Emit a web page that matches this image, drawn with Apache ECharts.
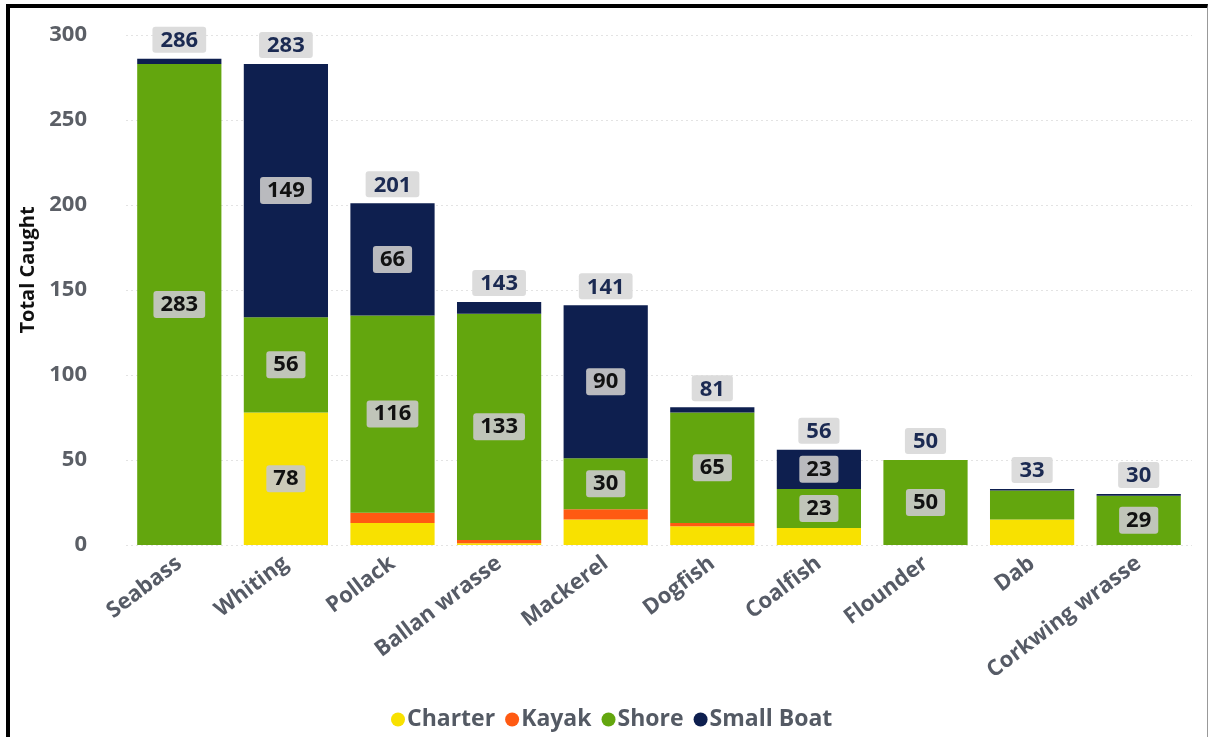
<!DOCTYPE html>
<html>
<head>
<meta charset="utf-8">
<script src="https://cdn.jsdelivr.net/npm/echarts@6/dist/echarts.min.js"></script>
<style>
  html, body { margin: 0; padding: 0; background: #fff; }
  #frame {
    position: absolute; left: 6px; top: 4px; width: 1202px; height: 740px;
    border-left: 4px solid #000; border-top: 4px solid #000; border-right: 1px solid #999;
    box-sizing: border-box;
  }
  #chart { position: absolute; left: 0; top: 0; width: 1211px; height: 737px; }
</style>
</head>
<body>
<div id="frame"></div>
<div id="chart"></div>
<script>
// Fish caught per species, split by fishing method
const species = ['Seabass', 'Whiting', 'Pollack', 'Ballan wrasse', 'Mackerel', 'Dogfish', 'Coalfish', 'Flounder', 'Dab', 'Corkwing wrasse'];
const charter   = [0,   78,  13, 1,   15, 11, 10, 0,  15, 0];
const kayak     = [0,   0,   6,  2,   6,  2,  0,  0,  0,  0];
const shore     = [283, 56,  116, 133, 30, 65, 23, 50, 17, 29];
const smallBoat = [3,   149, 66, 7,   90, 3,  23, 0,  1,  1];
const yTicks = { min: 0, max: 300, interval: 50 };

const methods = [
  { name: 'Charter',    data: charter,   color: '#F8E100' },
  { name: 'Kayak',      data: kayak,     color: '#FF5A12' },
  { name: 'Shore',      data: shore,     color: '#63A60E' },
  { name: 'Small Boat', data: smallBoat, color: '#0E1F4F' }
];
const totals = species.map((_, i) => methods.reduce((s, m) => s + m.data[i], 0));

const FONT = '"Open Sans", "Noto Sans", sans-serif';
// segments shorter than this carry no value label
const SEG_LABEL_MIN = 20;

const series = methods.map(m => ({
  name: m.name,
  type: 'bar',
  stack: 'total',
  barCategoryGap: '21%',
  data: m.data.map(v => ({ value: v, label: { show: v >= SEG_LABEL_MIN } })),
  itemStyle: { color: m.color },
  label: {
    position: 'inside',
    fontFamily: FONT,
    fontWeight: 'bold',
    fontSize: 22,
    color: '#111',
    backgroundColor: 'rgba(200,200,200,0.92)',
    borderRadius: 3,
    padding: [4, 7, 1, 7]
  },
  emphasis: { disabled: true }
}));

// zero-height cap on each stack carrying the total label
series.push({
  name: 'Total',
  type: 'bar',
  stack: 'total',
  data: totals.map(() => 0),
  itemStyle: { color: 'transparent' },
  label: {
    show: true,
    position: 'top',
    distance: 6,
    formatter: p => String(totals[p.dataIndex]),
    fontFamily: FONT,
    fontWeight: 'bold',
    fontSize: 22,
    color: '#1B2A52',
    backgroundColor: '#DCDCDC',
    borderRadius: 3,
    padding: [3, 8, 1, 8]
  },
  emphasis: { disabled: true }
});

const chart = echarts.init(document.getElementById('chart'), null, { renderer: 'canvas' });
chart.setOption({
  animation: false,
  textStyle: { fontFamily: FONT },
  grid: { left: 126, right: 19, top: 35, bottom: 192 },
  legend: {
    data: methods.map(m => ({ name: m.name, itemStyle: { color: m.color } })),
    left: 386,
    bottom: 1,
    icon: 'circle',
    itemWidth: 14,
    itemHeight: 14,
    itemGap: 10,
    textStyle: { fontFamily: FONT, fontWeight: 'bold', fontSize: 23, color: '#545A64', padding: [0, 0, 0, -3] }
  },
  xAxis: {
    type: 'category',
    data: species,
    axisLine: { show: false },
    axisTick: { show: false },
    axisLabel: {
      interval: 0,
      rotate: 37,
      margin: 16,
      fontFamily: FONT,
      fontWeight: 'bold',
      fontSize: 22,
      color: '#565B66'
    }
  },
  yAxis: {
    type: 'value',
    min: yTicks.min,
    max: yTicks.max,
    interval: yTicks.interval,
    axisLine: { show: false },
    axisTick: { show: false },
    axisLabel: {
      margin: 39,
      fontFamily: FONT,
      fontWeight: 'bold',
      fontSize: 22,
      color: '#5B5F66'
    },
    splitLine: { lineStyle: { color: '#E3E3E3', type: [2, 3], width: 1 } }
  },
  graphic: [{
    type: 'text',
    x: 28,
    y: 270,
    rotation: Math.PI / 2,
    style: {
      text: 'Total Caught',
      fontFamily: FONT,
      fontWeight: 'bold',
      fontSize: 20,
      fill: '#111',
      align: 'center',
      verticalAlign: 'middle'
    }
  }],
  series: series
});
</script>
</body>
</html>
